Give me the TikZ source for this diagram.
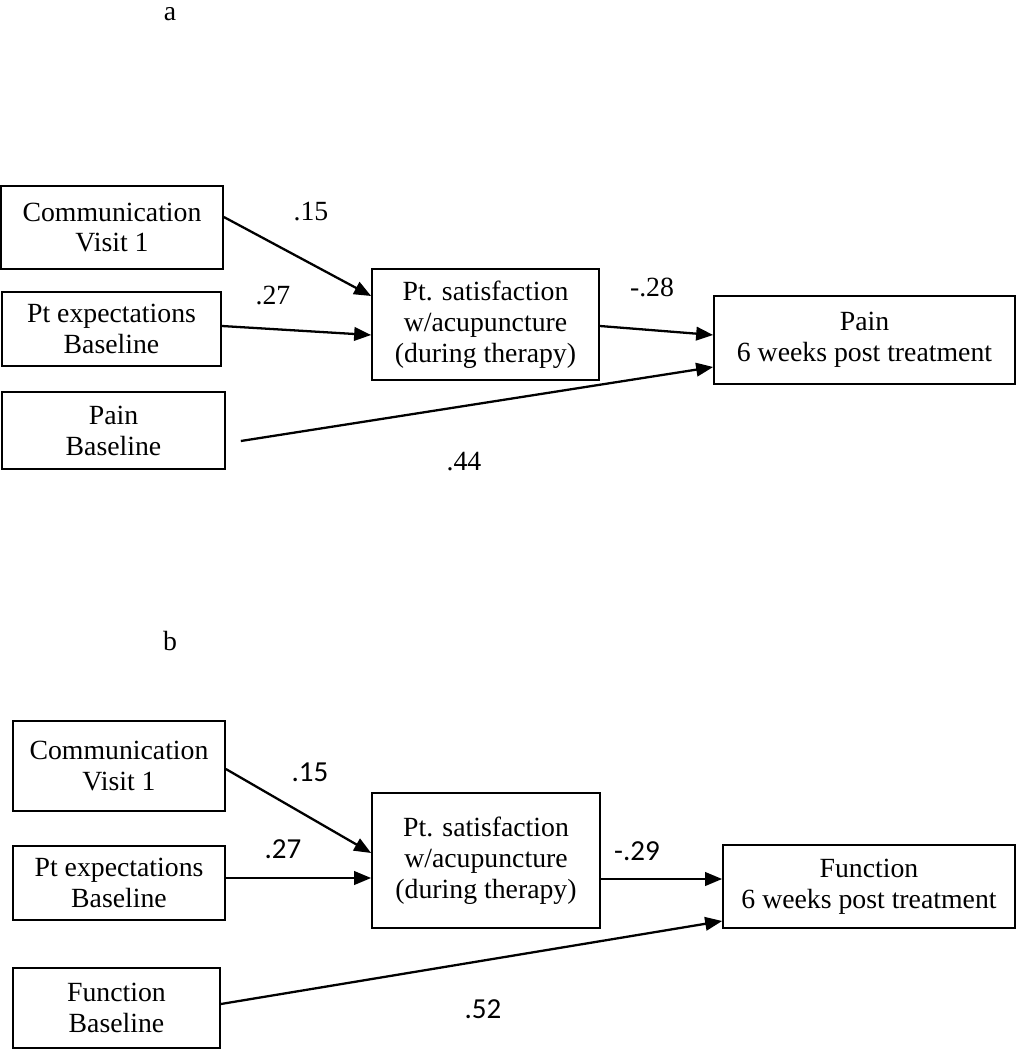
\documentclass[tikz,border=0pt]{standalone}
\usepackage{fontspec}
\setmainfont{Liberation Serif}
\newfontfamily\coeffont{Carlito}
\usetikzlibrary{arrows.meta,calc}

\begin{document}
\begin{tikzpicture}[
    x=0.02cm, y=-0.02cm,
    varbox/.style={draw, line width=1pt, align=center, inner sep=0pt,
        font=\fontsize{15.8}{17.6}\selectfont},
    link/.style={-{Triangle[length=0.34cm, width=0.27cm]}, line width=1.3pt},
    coef/.style={font=\fontsize{15.8}{17.6}\selectfont},
    coefb/.style={font=\coeffont\fontsize{16.5}{17.6}\selectfont}
]
\useasboundingbox (0,0) rectangle (1017,1050);

% Panel a
\node[coef] (labA) at (170,14) {a};
\node[varbox, minimum width=4.44cm, minimum height=1.66cm] (comA) at (112,227.5) {Communication\\Visit 1};
\node[varbox, minimum width=4.38cm, minimum height=1.48cm] (expA) at (111.5,329) {Pt expectations\\Baseline};
\node[varbox, minimum width=4.46cm, minimum height=1.54cm] (painA) at (113.5,430.5) {Pain\\Baseline};
\node[varbox, minimum width=4.54cm, minimum height=2.22cm] (satA) at (485.5,324.5) {Pt. satisfaction\\w/acupuncture\\(during therapy)};
\node[varbox, minimum width=6.02cm, minimum height=1.76cm] (outA) at (864.5,340) {Pain\\6 weeks post treatment};

\draw[link] (comA.east |- 0,217) -- (satA.west |- 0,296);
\draw[link] (expA.east |- 0,326) -- (satA.west |- 0,335);
\draw[link] (satA.east |- 0,326) -- (outA.west |- 0,335);
\draw[link] ($(painA.east)+(15,10.5)$) -- (outA.west |- 0,367);

\node[coef] (cA1) at (311,212) {.15};
\node[coef] (cA2) at (273,296) {.27};
\node[coef] (cA3) at (652,287) {-.28};
\node[coef] (cA4) at (464,462) {.44};

% Panel b
\node[coef] (labB) at (170,641) {b};
\node[varbox, minimum width=4.24cm, minimum height=1.8cm] (comB) at (119,766) {Communication\\Visit 1};
\node[varbox, minimum width=4.24cm, minimum height=1.48cm] (expB) at (119,883) {Pt expectations\\Baseline};
\node[varbox, minimum width=4.14cm, minimum height=1.6cm] (funB) at (116.5,1008) {Function\\Baseline};
\node[varbox, minimum width=4.56cm, minimum height=2.7cm] (satB) at (486,860.5) {Pt. satisfaction\\w/acupuncture\\(during therapy)};
\node[varbox, minimum width=5.84cm, minimum height=1.66cm] (outB) at (869,886.5) {Function\\6 weeks post treatment};

\draw[link] (comB.east |- 0,769) -- (satB.west |- 0,853);
\draw[link] (expB.east |- 0,878) -- (satB.west |- 0,878);
\draw[link] (satB.east |- 0,879) -- (outB.west |- 0,879);
\draw[link] (funB.east |- 0,1004) -- (outB.west |- 0,921);

\node[coefb] (cB1) at (310,772) {.15};
\node[coefb] (cB2) at (283,849) {.27};
\node[coefb] (cB3) at (637,851) {-.29};
\node[coefb] (cB4) at (483,1009) {.52};

\end{tikzpicture}
\end{document}
